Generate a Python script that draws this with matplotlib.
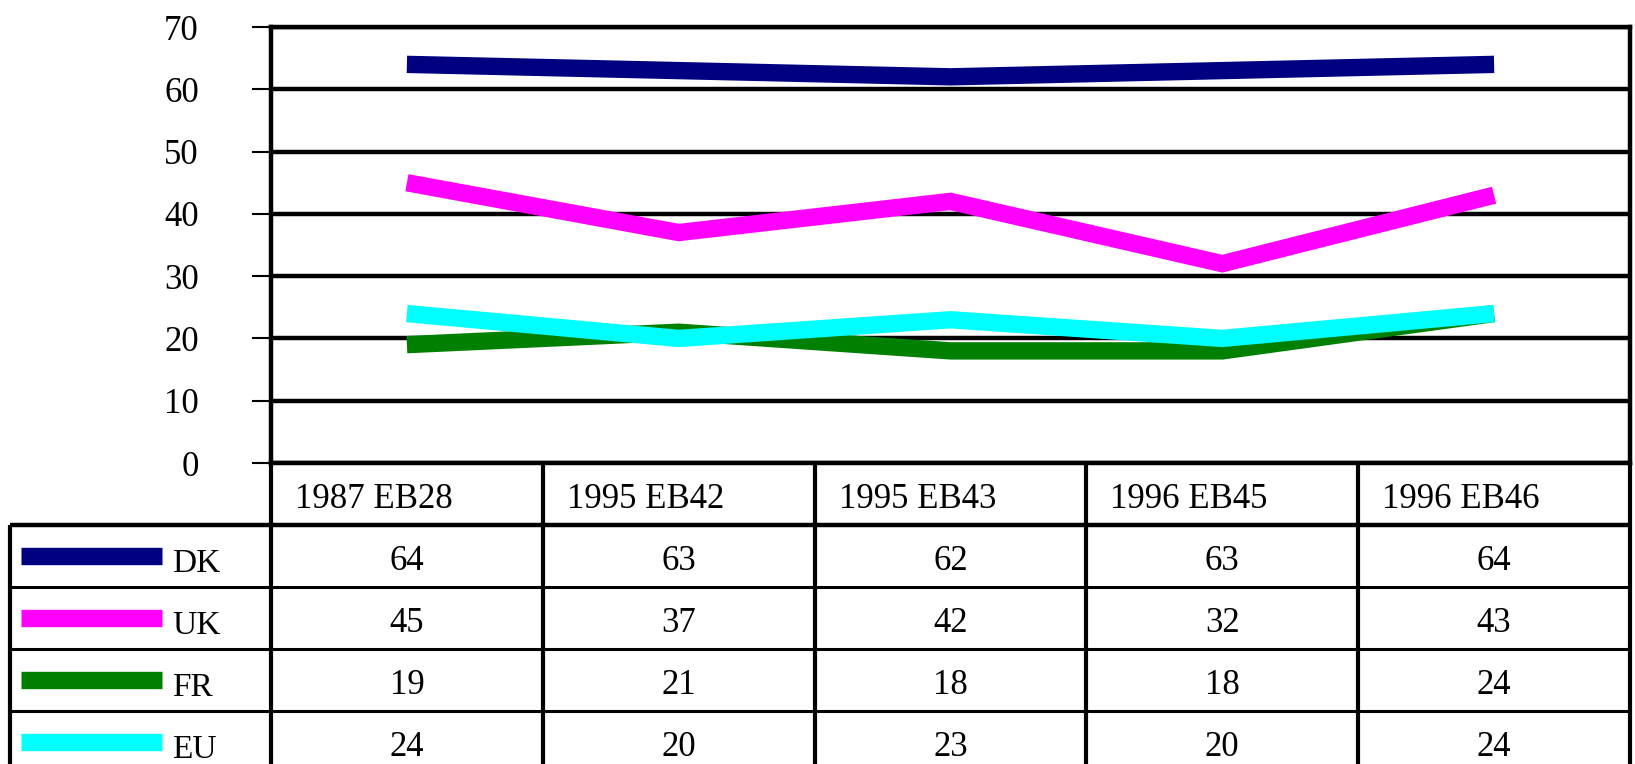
import matplotlib
matplotlib.use("Agg")
import matplotlib.pyplot as plt

# ---- data ----
waves = ["1987 EB28", "1995 EB42", "1995 EB43", "1996 EB45", "1996 EB46"]
countries = ["DK", "UK", "FR", "EU"]
dk = [64, 63, 62, 63, 64]
uk = [45, 37, 42, 32, 43]
fr = [19, 21, 18, 18, 24]
eu = [24, 20, 23, 20, 24]
series = [dk, uk, fr, eu]
colors = ["#000080", "#FF00FF", "#008000", "#00FFFF"]
yticks = [0, 10, 20, 30, 40, 50, 60, 70]

W, H = 1635, 764
FONT = "Liberation Serif"
FS = 25

# pixel layout of the reference
X0, X1 = 271, 1630          # plot / table columns span
Y_TOP, Y_ZERO = 27, 463     # y=70 and y=0
HEAD_BOT = 525              # header row bottom
ROW_H = 62
TAB_LEFT = 10

fig = plt.figure(figsize=(W / 100, H / 100), dpi=100)

# ---- table overlay in pixel coords ----
tab = fig.add_axes([0, 0, 1, 1])
tab.set_xlim(0, W)
tab.set_ylim(H, 0)
tab.axis("off")

ncol = len(waves)
col_w = (X1 - X0) / ncol
for i in range(1, ncol):
    tab.vlines(X0 + i * col_w, Y_ZERO, H, color="black", lw=3)
tab.vlines(X0, Y_ZERO, H, color="black", lw=3)
tab.vlines(X1, Y_ZERO, H, color="black", lw=3)
tab.vlines(TAB_LEFT, HEAD_BOT, H, color="black", lw=3)
tab.hlines(HEAD_BOT, TAB_LEFT, X1, color="black", lw=3.2)
for r in range(1, len(countries)):
    tab.hlines(HEAD_BOT + r * ROW_H, TAB_LEFT, X1, color="black", lw=2.2)

for i, w in enumerate(waves):
    tab.text(X0 + i * col_w + 24, (Y_ZERO + HEAD_BOT) / 2 + 5, w,
             ha="left", va="center", family=FONT, fontsize=FS)

for r, (name, vals, c) in enumerate(zip(countries, series, colors)):
    yc = HEAD_BOT + r * ROW_H + ROW_H / 2
    tab.plot([21, 162], [yc, yc], color=c, lw=12.5, solid_capstyle="butt")
    tab.text(172, yc + 8, name, ha="left", va="center",
             family=FONT, fontsize=FS - 1)
    for i, v in enumerate(vals):
        tab.text(X0 + (i + 0.5) * col_w, yc + 5, str(v), ha="center",
                 va="center", family=FONT, fontsize=FS)

# ---- line chart ----
ax = fig.add_axes([X0 / W, (H - Y_ZERO) / H, (X1 - X0) / W,
                   (Y_ZERO - Y_TOP) / H])
ax.set_xlim(0, ncol)
ax.set_ylim(0, 70)
ax.patch.set_alpha(0)
xs = [i + 0.5 for i in range(ncol)]
for vals, c in zip(series, colors):
    ax.plot(xs, vals, color=c, lw=12.5, solid_capstyle="butt",
            solid_joinstyle="miter", zorder=3)

ax.set_yticks(yticks)
ax.set_yticklabels([str(t) for t in yticks], family=FONT, fontsize=FS)
ax.set_xticks([])
ax.tick_params(axis="y", length=14, width=1.5, pad=38, color="black")
ax.grid(axis="y", color="black", lw=3.2, zorder=1)
ax.set_axisbelow(True)
for sp in ax.spines.values():
    sp.set_linewidth(3.2)
    sp.set_color("black")

fig.savefig("out.png", dpi=100)
